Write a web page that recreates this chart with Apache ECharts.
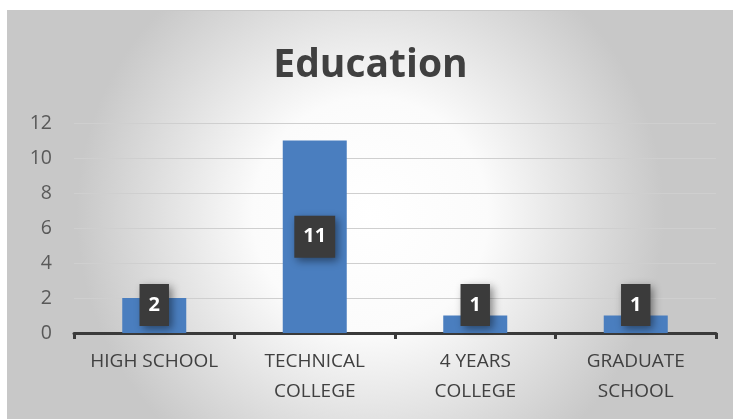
<!DOCTYPE html>
<html>
<head>
<meta charset="utf-8">
<script src="https://cdn.jsdelivr.net/npm/echarts@6/dist/echarts.min.js"></script>
<style>
  html, body { margin: 0; padding: 0; background: #fff; }
  #chart { position: absolute; left: 7px; top: 10px; width: 726px; height: 409px;
           box-sizing: border-box; border-left: 1px solid #c8c8c8; border-top: 1px solid #c8c8c8; }
</style>
</head>
<body>
<div id="chart"></div>
<script>
var categories = ['HIGH SCHOOL', 'TECHNICAL\nCOLLEGE', '4 YEARS\nCOLLEGE', 'GRADUATE\nSCHOOL'];
var counts = [2, 11, 1, 1];
var yTicks = [0, 2, 4, 6, 8, 10, 12];

var myChart = echarts.init(document.getElementById('chart'));

// small bars: Excel keeps the label box sitting just above the axis
var barData = counts.map(function (v) {
  if (v < 3) {
    return { value: v, label: { position: 'insideBottom', distance: 7 } };
  }
  return v;
});

var option = {
  backgroundColor: {
    type: 'radial', x: 0.5, y: 0.5, r: 0.72,
    colorStops: [
      { offset: 0, color: '#ffffff' },
      { offset: 0.4, color: '#fbfbfb' },
      { offset: 1, color: '#c8c8c8' }
    ]
  },
  title: {
    text: 'Education',
    left: 'center',
    top: 30,
    textStyle: { fontFamily: 'Open Sans', fontWeight: 'bold', fontSize: 39, color: '#404040' }
  },
  grid: { left: 66, right: 17, top: 112, bottom: 86 },
  xAxis: {
    type: 'category',
    data: categories,
    axisLine: { lineStyle: { color: '#3a3a3a', width: 3 } },
    axisTick: { show: true, length: 6, lineStyle: { color: '#3a3a3a', width: 3 } },
    axisLabel: { interval: 0, fontFamily: 'Open Sans', fontSize: 19, color: '#404040', lineHeight: 30, margin: 14 }
  },
  yAxis: {
    type: 'value',
    min: yTicks[0],
    max: yTicks[yTicks.length - 1],
    interval: 2,
    axisLine: { show: false },
    axisTick: { show: false },
    axisLabel: { fontFamily: 'Open Sans', fontSize: 19.5, color: '#595959', margin: 22 },
    splitLine: { lineStyle: { color: '#cfcfcf', width: 1 } }
  },
  series: [{
    type: 'bar',
    data: barData,
    barWidth: 64,
    itemStyle: { color: '#4a7ebf' },
    label: {
      show: true,
      position: 'inside',
      color: '#ffffff',
      fontFamily: 'Open Sans',
      fontWeight: 'bold',
      fontSize: 20,
      backgroundColor: '#3b3b3b',
      padding: [11, 9, 11, 9],
      shadowColor: 'rgba(0,0,0,0.45)',
      shadowBlur: 8,
      shadowOffsetX: 3,
      shadowOffsetY: 3
    }
  }]
};

myChart.setOption(option);
</script>
</body>
</html>
